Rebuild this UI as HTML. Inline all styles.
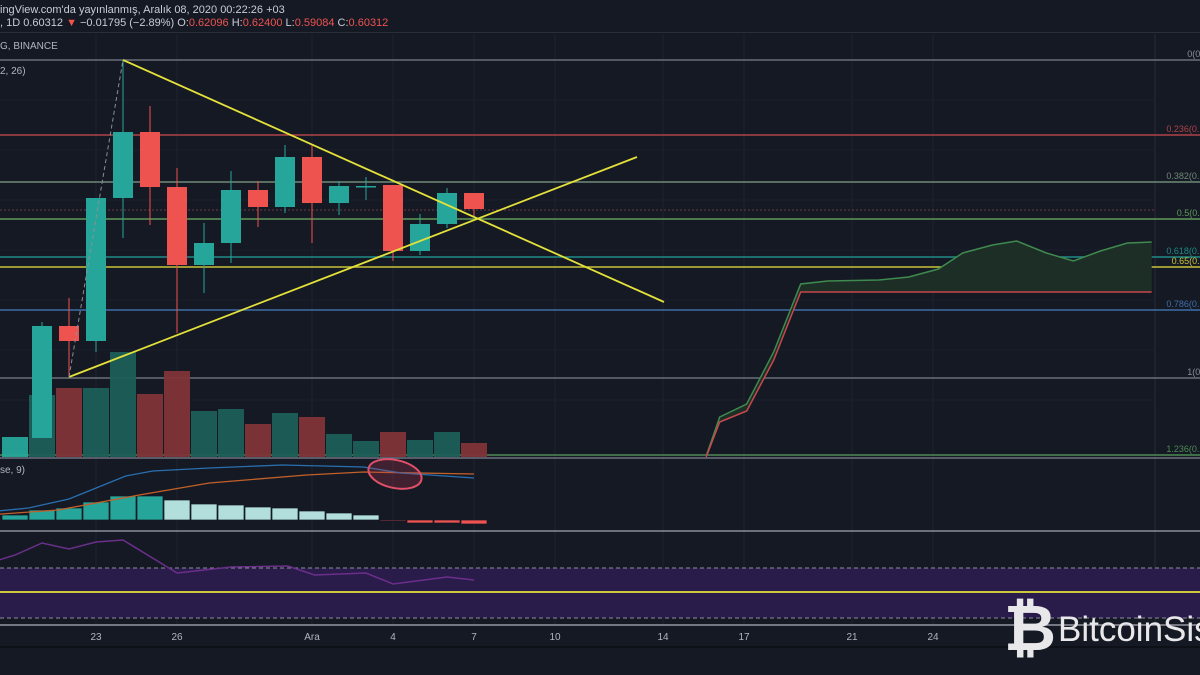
<!DOCTYPE html>
<html><head><meta charset="utf-8"><style>
html,body{margin:0;padding:0;background:#151924;}
svg{display:block;font-family:"Liberation Sans",sans-serif;}
</style></head><body>
<svg width="1200" height="675" viewBox="0 0 1200 675">
<rect width="1200" height="675" fill="#151924"/>
<g id="grid"></g>
<g id="fib"></g>
<g id="vol"></g>
<g id="cloud"></g>
<g id="candles"></g>
<g id="trend"></g>
<g id="macd"></g>
<g id="rsi"></g>
<g id="axis"></g>
<line x1="0" y1="32.5" x2="1200" y2="32.5" stroke="#2a2e39"/>
<text x="0" y="13" fill="#c9ccd4" font-size="11">ingView.com'da yayınlanmış, Aralık 08, 2020 00:22:26 +03</text>
<text x="0" y="26" fill="#c9ccd4" font-size="11">, 1D 0.60312 <tspan fill="#ef5350">▼</tspan> −0.01795 (−2.89%) O:<tspan fill="#ef5350">0.62096</tspan> H:<tspan fill="#ef5350">0.62400</tspan> L:<tspan fill="#ef5350">0.59084</tspan> C:<tspan fill="#ef5350">0.60312</tspan></text>
<text x="0" y="49" fill="#b2b5be" font-size="10">G, BINANCE</text>
<text x="0" y="74" fill="#b2b5be" font-size="10">2, 26)</text>
<text x="0" y="473" fill="#b2b5be" font-size="10">se, 9)</text>
<g>
<text x="1030" y="650" fill="#e8e8ea" font-size="64" font-weight="bold" text-anchor="middle">₿</text>
<text x="1058" y="641" fill="#e8e8ea" font-size="35">BitcoinSis</text>
</g>
</svg>
<script>
// Candle data (index 1..17)
const opens  = [0.422,0.534,0.519,0.662,0.728,0.673,0.595,0.617,0.670,0.653,0.703,0.657,0.674,0.675,0.609,0.636,0.667];
const closes = [0.534,0.519,0.662,0.728,0.673,0.595,0.617,0.670,0.653,0.703,0.657,0.674,0.674,0.609,0.636,0.667,0.651];
const highs  = [0.538,0.562,0.662,0.800,0.754,0.692,0.637,0.689,0.679,0.715,0.715,0.679,0.683,0.675,0.646,0.672,0.667];
const lows   = [0.422,0.483,0.508,0.622,0.635,0.527,0.567,0.597,0.633,0.647,0.617,0.645,0.660,0.599,0.605,0.632,0.644];
// Volume (index 0..17)
const volumes = [20,62,69,69,105,63,86,46,48,33,44,40,23,16,25,17,25,14];
const volUp   = [1,1,0,1,1,0,0,1,1,0,1,0,1,1,0,1,1,0];
// MACD histogram (index 0..17)
const hist = [5,10,12,18,24,24,20,16,15,13,12,9,7,5,-1,-3,-3,-4];
const macdLine   = [[-1,-8],[0.5,-12],[2,-21],[4.1,-44],[5.1,-49],[7.2,-52],[9.9,-55],[12.9,-53],[14.3,-47],[17,-42]];
const signalLine = [[-1,-5],[1.6,-10],[4.6,-25],[7.2,-37],[10.8,-45],[12.9,-48],[17,-46]];
// RSI
const rsiLine = [[-0.6,54],[0,56.5],[1,62.5],[2,59.5],[3,63],[4,64],[5.7,50],[6,47.5],[8,50.5],[10.1,51],[11.1,46.5],[13,47.5],[14,42],[16,45.5],[17,44]];
// Ichimoku cloud (x in bar index, price)
const spanA = [[25.6,0.404],[26.1,0.443],[27.1,0.456],[28.1,0.508],[29.1,0.576],[30.1,0.579],[32.0,0.580],[33.1,0.583],[34.2,0.591],[35.1,0.607],[36.2,0.615],[37.1,0.619],[38.2,0.607],[39.2,0.599],[40.2,0.609],[41.2,0.617],[42.1,0.618]];
const spanB = [[25.6,0.403],[26.1,0.438],[27.1,0.449],[28.1,0.500],[29.1,0.568],[42.1,0.568]];
// Fib levels
const fibRatios = ["0","0.236","0.382","0.5","0.618","0.65","0.786","1","1.236"];
const fibPrices = [0.800,0.725,0.678,0.641,0.603,0.593,0.550,0.482,0.405];
const fibColors = ["#6b6f7a","#b0424a","#6f8a76","#5f9a5a","#1f8b88","#c9c23a","#3f6fa8","#6b6f7a","#4f8a55"];
// Axis labels
const tickLabels = ["23","26","Ara","4","7","10","14","17","21","24"];
const tickIdx    = [3,6,11,14,17,20,24,27,31,34];

const NS="http://www.w3.org/2000/svg";
const X = i => 15 + 27*i;
const Y = p => 60 + (0.800 - p)*1000;
const MZ = 520, MY = v => MZ - v;
const RY = v => 568 + (50 - v)*2;
function mk(parent, tag, attrs){const e=document.createElementNS(NS,tag);for(const k in attrs)e.setAttribute(k,attrs[k]);document.getElementById(parent).appendChild(e);return e;}
const pts = (arr,fx,fy)=>arr.map(a=>fx(a[0]).toFixed(1)+","+fy(a[1]).toFixed(1)).join(" ");

tickIdx.forEach(i=>{const l=mk('grid','line',{x1:X(i),y1:34,x2:X(i),y2:625,stroke:'#1f2330'});

});
[100,150,200,250,300,350,400].forEach(y=>{const l=mk('grid','line',{x1:0,y1:y,x2:1155,y2:y,stroke:'#1b1f2b'});

});
const rv=mk('grid','line',{x1:1155,y1:34,x2:1155,y2:625,stroke:'#262a36'});



const dot=mk('fib','line',{x1:0,y1:210,x2:1155,y2:210,stroke:'#6a3a44','stroke-dasharray':'2,2'});


fibPrices.forEach((p,k)=>{
  const l=mk('fib','line',{x1:0,y1:Y(p),x2:1200,y2:Y(p),stroke:fibColors[k],'stroke-width':1.5});
  
  
  const t=mk('fib','text',{x:1200,y:Y(p)-3,fill:fibColors[k]==='#6b6f7a'?'#8a8e99':fibColors[k],'font-size':9,'text-anchor':'start'});
  t.textContent=fibRatios[k]+"(0.";
  t.setAttribute('x',1200-t.textContent.length*5.2+8);
  
  
});

volumes.forEach((v,k)=>{
  const r=mk('vol','rect',{x:X(k)-13,y:457-v,width:26,height:v,fill:k===0?'#26a69a':(volUp[k]?'#1c5f59':'#7f3438'),opacity:0.95});
  
  
});

const poly=mk('cloud','polygon',{points:pts(spanA,X,Y)+" "+pts(spanB.slice().reverse(),X,Y),fill:'#1d2e27'});


const la=mk('cloud','polyline',{points:pts(spanA,X,Y),fill:'none',stroke:'#3f8a4f','stroke-width':1.5});


const lb=mk('cloud','polyline',{points:pts(spanB,X,Y),fill:'none',stroke:'#c8474d','stroke-width':1.5});



opens.forEach((o,j)=>{
  const i=j+1,c=closes[j],up=c>=o,col=up?'#26a69a':'#ef5350';
  const w=mk('candles','line',{x1:X(i),y1:Y(highs[j]),x2:X(i),y2:Y(lows[j]),stroke:col,'stroke-width':1});
  
  
  const top=Y(Math.max(o,c)),h=Math.max(1.5,Math.abs(Y(o)-Y(c)));
  const b=mk('candles','rect',{x:X(i)-10,y:top,width:20,height:h,fill:col});
  
  
});

const t1=mk('trend','line',{x1:X(4),y1:60,x2:664,y2:302,stroke:'#e4e13a','stroke-width':1.8});


const t2=mk('trend','line',{x1:X(2),y1:377,x2:637,y2:157,stroke:'#e4e13a','stroke-width':1.8});


const t3=mk('trend','line',{x1:X(2),y1:377,x2:X(4),y2:60,stroke:'#8a8e99','stroke-dasharray':'4,3'});



const ms=mk('macd','line',{x1:0,y1:458,x2:1200,y2:458,stroke:'#6e7380','stroke-width':1.5});


hist.forEach((v,k)=>{
  const light=k>=6&&v>0;
  const col=v<0?'#ef5350':(light?'#b2dfdb':'#26a69a');
  const r=mk('macd','rect',{x:X(k)-13,y:Math.min(MY(v),MZ),width:26,height:Math.max(1,Math.abs(v)),fill:col,stroke:'#151924','stroke-width':0.7});
  
  
});
const sl=mk('macd','polyline',{points:pts(signalLine,X,v=>MZ+v),fill:'none',stroke:'#c2602a','stroke-width':1.3});


const ml=mk('macd','polyline',{points:pts(macdLine,X,v=>MZ+v),fill:'none',stroke:'#2a6fb0','stroke-width':1.3});


const el=mk('macd','ellipse',{cx:395,cy:474,rx:27,ry:14,fill:'rgba(200,60,80,0.25)',stroke:'#e0506a','stroke-width':2,transform:'rotate(12 395 474)'});



const rs=mk('rsi','line',{x1:0,y1:531,x2:1200,y2:531,stroke:'#8a8e99','stroke-width':1.5});


const rb=mk('rsi','rect',{x:0,y:568,width:1200,height:50,fill:'#2a1c4a'});


[568,618].forEach(y=>{const d=mk('rsi','line',{x1:0,y1:y,x2:1200,y2:y,stroke:'#8a8e99','stroke-dasharray':'4,3'});

});
const ym=mk('rsi','line',{x1:0,y1:592,x2:1200,y2:592,stroke:'#e4e13a','stroke-width':1.8});


const rl=mk('rsi','polyline',{points:pts(rsiLine,X,RY),fill:'none',stroke:'#6a2f8a','stroke-width':1.5});



const ab=mk('axis','line',{x1:0,y1:625,x2:1200,y2:625,stroke:'#9598a1','stroke-width':1.5});


const ab2=mk('axis','line',{x1:0,y1:647,x2:1200,y2:647,stroke:'#0b0d13','stroke-width':1.5});


tickLabels.forEach((s,k)=>{
  const t=mk('axis','text',{x:X(tickIdx[k]),y:640,fill:'#b2b5be','font-size':10,'text-anchor':'middle'});
  t.textContent=s;
  
  
});
</script>
</body></html>
